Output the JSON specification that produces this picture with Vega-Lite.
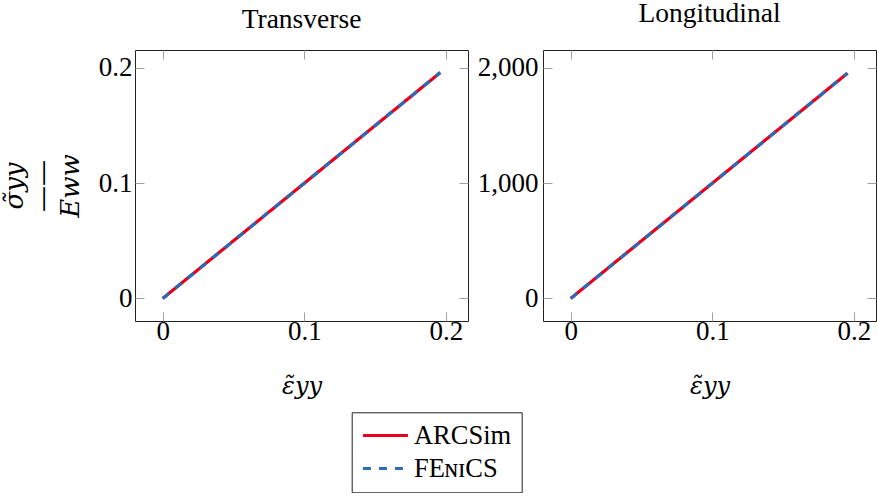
{
  "$schema": "https://vega.github.io/schema/vega-lite/v6.json",
  "padding": {"left": 0, "top": -1, "right": 0, "bottom": 0},
  "spacing": 75,
  "bounds": "flush",
  "config": {
    "font": "Liberation Serif",
    "view": {"stroke": "#222", "strokeWidth": 1},
    "axis": {
      "labelFont": "Liberation Serif", "labelFontSize": 27, "labelColor": "#000",
      "domain": false, "grid": false, "minExtent": 0,
      "tickColor": "#a0a0a0", "tickSize": -9, "tickWidth": 1,
      "titleFont": "DejaVu Serif", "titleFontSize": 24, "titleFontWeight": "normal",
      "titleColor": "#000", "titleFontStyle": "italic"
    },
    "title": {"font": "Liberation Serif", "fontSize": 27.5, "fontWeight": "normal", "color": "#000"},
    "legend": {
      "labelFont": "Liberation Serif", "labelFontSize": 26.5, "labelColor": "#000"
    }
  },
  "hconcat": [
    {
      "width": 333, "height": 271,
      "title": {"text": "Transverse", "offset": -6.3, "baseline": "alphabetic"},
      "data": {"values": [
        {"method": "ARCSim", "strain": 0, "stress": 0},
        {"method": "ARCSim", "strain": 0.1, "stress": 0.1},
        {"method": "ARCSim", "strain": 0.196, "stress": 0.196},
        {"method": "FEɴɪCS", "strain": 0, "stress": 0},
        {"method": "FEɴɪCS", "strain": 0.1, "stress": 0.1},
        {"method": "FEɴɪCS", "strain": 0.196, "stress": 0.196}
      ]},
      "layer": [
        {
          "transform": [{"filter": "datum.method === 'ARCSim'"}],
          "mark": {"type": "line", "strokeWidth": 3.2},
          "encoding": {
            "x": {"field": "strain", "type": "quantitative", "scale": {"domain": [-0.0196, 0.2156], "nice": false, "zero": false},
                  "axis": {"orient": "bottom", "values": [0, 0.1, 0.2], "format": "~g", "title": "ε̃yy", "labelPadding": 6, "titlePadding": 30}},
            "y": {"field": "stress", "type": "quantitative", "scale": {"domain": [-0.0196, 0.2156], "nice": false, "zero": false},
                  "axis": {"orient": "left", "values": [0, 0.1, 0.2], "format": "~g", "title": ["σ̃yy", "——", "Eww"], "titleFontSize": 26, "titleLineHeight": 28, "labelPadding": 12, "titlePadding": 15}},
            "color": {"field": "method", "type": "nominal", "scale": {"domain": ["ARCSim", "FEɴɪCS"], "range": ["#e6001e", "#2b6cb8"]},
                      "legend": {"orient": "none", "legendX": 216.7, "legendY": 362.3, "title": null, "symbolType": "M-1.6,0H4.4", "symbolSize": 225, "symbolStrokeWidth": 3, "strokeColor": "#222", "padding": 10, "labelOffset": 25.7, "rowPadding": 6}},
            "strokeDash": {"field": "method", "type": "nominal", "scale": {"domain": ["ARCSim", "FEɴɪCS"], "range": [[1, 0], [8, 8]]}}
          }
        },
        {
          "transform": [{"filter": "datum.method !== 'ARCSim'"}],
          "mark": {"type": "line", "strokeWidth": 3.2},
          "encoding": {
            "x": {"field": "strain", "type": "quantitative", "axis": null},
            "y": {"field": "stress", "type": "quantitative", "axis": null},
            "color": {"field": "method", "type": "nominal"},
            "strokeDash": {"field": "method", "type": "nominal"}
          }
        },
        {
          "mark": {"type": "line", "opacity": 0},
          "encoding": {
            "x": {"field": "strain", "type": "quantitative", "axis": {"orient": "top", "values": [0, 0.1, 0.2], "labels": false, "title": null, "minExtent": 0}},
            "y": {"field": "stress", "type": "quantitative", "axis": {"orient": "right", "values": [0, 0.1, 0.2], "labels": false, "title": null, "minExtent": 0}},
            "detail": {"field": "method"}
          }
        }
      ],
      "resolve": {"axis": {"x": "independent", "y": "independent"}}
    },
    {
      "width": 333, "height": 271,
      "title": {"text": "Longitudinal", "offset": 0.3, "baseline": "alphabetic"},
      "data": {"values": [
        {"method": "ARCSim", "strain": 0, "stress": 0},
        {"method": "ARCSim", "strain": 0.1, "stress": 1000},
        {"method": "ARCSim", "strain": 0.1955, "stress": 1955},
        {"method": "FEɴɪCS", "strain": 0, "stress": 0},
        {"method": "FEɴɪCS", "strain": 0.1, "stress": 1000},
        {"method": "FEɴɪCS", "strain": 0.1955, "stress": 1955}
      ]},
      "layer": [
        {
          "transform": [{"filter": "datum.method === 'ARCSim'"}],
          "mark": {"type": "line", "strokeWidth": 3.2},
          "encoding": {
            "x": {"field": "strain", "type": "quantitative", "scale": {"domain": [-0.0196, 0.2156], "nice": false, "zero": false},
                  "axis": {"orient": "bottom", "values": [0, 0.1, 0.2], "format": "~g", "title": "ε̃yy", "labelPadding": 6, "titlePadding": 30}},
            "y": {"field": "stress", "type": "quantitative", "scale": {"domain": [-196, 2156], "nice": false, "zero": false},
                  "axis": {"orient": "left", "values": [0, 1000, 2000], "format": ",.0f", "title": null, "labelPadding": 14}},
            "color": {"field": "method", "type": "nominal", "scale": {"domain": ["ARCSim", "FEɴɪCS"], "range": ["#e6001e", "#2b6cb8"]}},
            "strokeDash": {"field": "method", "type": "nominal", "scale": {"domain": ["ARCSim", "FEɴɪCS"], "range": [[1, 0], [8, 8]]}}
          }
        },
        {
          "transform": [{"filter": "datum.method !== 'ARCSim'"}],
          "mark": {"type": "line", "strokeWidth": 3.2},
          "encoding": {
            "x": {"field": "strain", "type": "quantitative", "axis": null},
            "y": {"field": "stress", "type": "quantitative", "axis": null},
            "color": {"field": "method", "type": "nominal"},
            "strokeDash": {"field": "method", "type": "nominal"}
          }
        },
        {
          "mark": {"type": "line", "opacity": 0},
          "encoding": {
            "x": {"field": "strain", "type": "quantitative", "axis": {"orient": "top", "values": [0, 0.1, 0.2], "labels": false, "title": null, "minExtent": 0}},
            "y": {"field": "stress", "type": "quantitative", "axis": {"orient": "right", "values": [0, 1000, 2000], "labels": false, "title": null, "minExtent": 0}},
            "detail": {"field": "method"}
          }
        }
      ],
      "resolve": {"axis": {"x": "independent", "y": "independent"}}
    }
  ]
}
